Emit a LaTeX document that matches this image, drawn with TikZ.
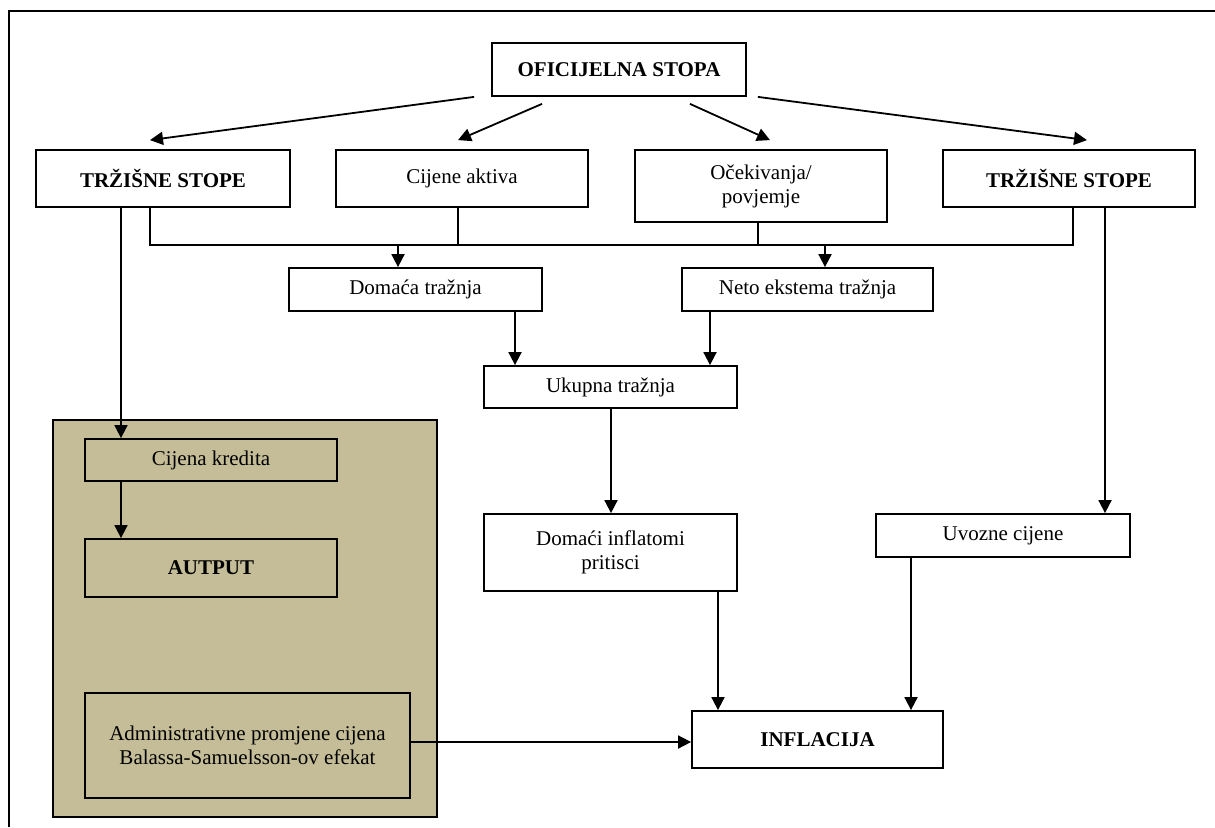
\documentclass[tikz,border=0pt]{standalone}
\usepackage{fontspec}
\setmainfont{Liberation Serif}
\usetikzlibrary{calc,arrows.meta}

\definecolor{tanfill}{RGB}{196,189,151}

\begin{document}
\begin{tikzpicture}[x=1pt,y=-1pt,
  every node/.style={font=\fontsize{21}{24}\selectfont},
  box/.style={draw, line width=1.8pt, fill=white, inner sep=0pt, align=center},
  tanbox/.style={box, fill=tanfill},
  hd/.style={font=\fontsize{21}{24}\selectfont\bfseries},
  wire/.style={line width=1.8pt},
  arr/.style={wire, -{Triangle[length=13pt,width=13pt]}}
]
\useasboundingbox (0,0) rectangle (1215,827);

% page frame (only top and left edges show)
\draw[line width=1.8pt] (9,827) -- (9,11) -- (1215,11);

% shaded panel on the left
\node[tanbox, minimum width=384, minimum height=397] (panel) at (245,618.5) {};

% boxes
\node[box, hd, minimum width=254, minimum height=53] (ofic) at (619,69.5) {OFICIJELNA STOPA};
\node[box, hd, minimum width=254, minimum height=57] (ts1) at (163,178.5) {TRŽIŠNE STOPE};
\node[box, minimum width=252, minimum height=57] (ca) at (462,178.5) {Cijene aktiva};
\node[box, minimum width=252, minimum height=72] (oc) at (761,186) {Očekivanja/\\povjemje};
\node[box, hd, minimum width=252, minimum height=57] (ts2) at (1069,178.5) {TRŽIŠNE STOPE};
\node[box, minimum width=253, minimum height=43] (dt) at (415.5,289.5) {Domaća tražnja};
\node[box, minimum width=251, minimum height=43] (net) at (807.5,289.5) {Neto ekstema tražnja};
\node[box, minimum width=253, minimum height=42] (uk) at (610.5,387) {Ukupna tražnja};
\node[box, minimum width=253, minimum height=77] (dip) at (610.5,552.5) {Domaći inflatomi\\pritisci};
\node[box, minimum width=254, minimum height=43] (uv) at (1003,535.5) {Uvozne cijene};
\node[box, hd, minimum width=251, minimum height=57] (inf) at (817.5,739.5) {INFLACIJA};
\node[tanbox, minimum width=252, minimum height=42] (ck) at (211,460) {Cijena kredita};
\node[tanbox, hd, minimum width=252, minimum height=58] (aut) at (211,568) {AUTPUT};
\node[tanbox, minimum width=325, minimum height=105] (adm) at (247.5,745.5) {Administrativne promjene cijena\\Balassa-Samuelsson-ov efekat};

% arrows fanning out from the official rate
\draw[arr] ($(ofic.south west)+(-17,0)$) -- ($(ts1.north)+(-13,-9)$);
\draw[arr] ($(ofic.south)+(-77,7)$) -- ($(ca.north)+(-4,-9)$);
\draw[arr] ($(ofic.south)+(71,7)$) -- ($(oc.north)+(9,-9)$);
\draw[arr] ($(ofic.south east)+(11,0)$) -- ($(ts2.north)+(18,-9)$);

% collecting bus below the second row
\coordinate (busL) at ($(ts1.south)+(-13,37)$);
\coordinate (busR) at ($(ts2.south)+(4,0)$);
\draw[wire] ($(ts1.south)+(-13,0)$) -- (busL) -- (busL -| busR) -- (busR);
\coordinate (cadown) at ($(ca.south)+(-4,0)$);
\draw[wire] (cadown) -- (cadown |- busL);
\coordinate (ocdown) at ($(oc.south)+(-3,0)$);
\draw[wire] (ocdown) -- (ocdown |- busL);
\coordinate (dtin) at ($(dt.north)+(-17.5,0)$);
\draw[arr] (dtin |- busL) -- (dtin);
\coordinate (netin) at ($(net.north)+(17.5,0)$);
\draw[arr] (netin |- busL) -- (netin);

% demand into aggregate demand
\coordinate (d2u) at ($(dt.south)+(99.5,0)$);
\draw[arr] (d2u) -- (d2u |- uk.north);
\coordinate (n2u) at ($(net.south)+(-97.5,0)$);
\draw[arr] (n2u) -- (n2u |- uk.north);
\coordinate (ukout) at ($(uk.south)+(0.5,0)$);
\draw[arr] (ukout) -- (ukout |- dip.north);

% into inflation
\coordinate (dipout) at ($(dip.south)+(107.5,0)$);
\draw[arr] (dipout) -- (dipout |- inf.north);
\coordinate (ts2out) at ($(ts2.south)+(36,0)$);
\draw[arr] (ts2out) -- (ts2out |- uv.north);
\coordinate (uvout) at ($(uv.south)+(-92,0)$);
\draw[arr] (uvout) -- (uvout |- inf.north);
\coordinate (admout) at ($(adm.east)+(0,-3.5)$);
\draw[arr] (admout) -- (admout -| inf.west);

% credit channel on the left
\coordinate (ts1out) at ($(ts1.south)+(-42,0)$);
\draw[arr] (ts1out) -- (ts1out |- ck.north);
\draw[arr] (ts1out |- ck.south) -- (ts1out |- aut.north);
\end{tikzpicture}
\end{document}
